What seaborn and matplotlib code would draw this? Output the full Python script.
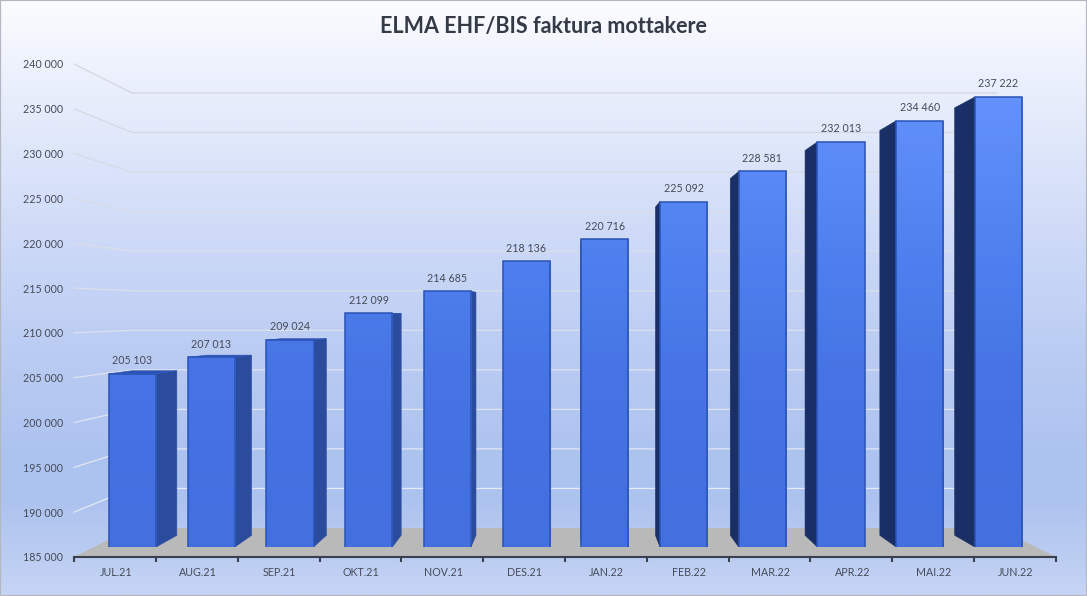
import numpy as np
import pandas as pd
import seaborn as sns
import matplotlib
matplotlib.use("Agg")
import matplotlib.pyplot as plt
from matplotlib.colors import LinearSegmentedColormap, to_rgb
from matplotlib.patches import Polygon, Rectangle
from matplotlib.transforms import Affine2D

# ---- data ----
months = ["JUL.21", "AUG.21", "SEP.21", "OKT.21", "NOV.21", "DES.21",
          "JAN.22", "FEB.22", "MAR.22", "APR.22", "MAI.22", "JUN.22"]
receivers = [205103, 207013, 209024, 212099, 214685, 218136,
             220716, 225092, 228581, 232013, 234460, 237222]
y_ticks = [185000, 190000, 195000, 200000, 205000, 210000,
           215000, 220000, 225000, 230000, 235000, 240000]
title = "ELMA EHF/BIS faktura mottakere"

# ---- style ----
W, H = 1087, 596
BASE, TOP = 185000, 240000
FONT = "Lato"
TEXT = "#454a58"
LABEL_SIZE = 7.7
sns.set_theme(style="white")
plt.rcParams["font.family"] = [FONT, "DejaVu Sans"]

fig = plt.figure(figsize=(W / 100, H / 100), dpi=100)
PX = Affine2D().scale(1 / W, -1 / H).translate(0, 1) + fig.transFigure


def box(left, right, top, bottom):
    return [left / W, 1 - bottom / H, (right - left) / W, (bottom - top) / H]


fmt = lambda v: f"{v:,}".replace(",", " ")

# ---- background gradient ----
bg_axes = fig.add_axes([0, 0, 1, 1], zorder=0)
bg_stops = [(0.00, "#fbfcff"), (0.10, "#eff3fd"), (0.25, "#dee6fa"), (0.42, "#cbd8f7"),
            (0.59, "#bbccf3"), (0.76, "#adc3ef"), (0.85, "#aec4ef"), (0.94, "#bccdf2"),
            (1.00, "#c6d5f5")]
bg_axes.imshow(np.linspace(0, 1, 400)[:, None], aspect="auto", extent=(0, 1, 0, 1),
               cmap=LinearSegmentedColormap.from_list("bg", bg_stops), vmin=0, vmax=1)
bg_axes.axis("off")

# ---- labelled axes: front edge of the floor and value scale on the side wall ----
ax = fig.add_axes(box(74, 1056, 64, 557), zorder=1)
ax.patch.set_alpha(0)
ax.set_xlim(-0.5, 11.5)
ax.set_ylim(BASE, TOP)
sns.despine(ax=ax, left=True, top=True, right=True)
ax.spines["bottom"].set_color("#3a4050")
ax.spines["bottom"].set_linewidth(1.5)
ax.set_yticks(y_ticks, [fmt(v) for v in y_ticks], fontsize=LABEL_SIZE, color=TEXT)
ax.tick_params(axis="y", length=0, pad=8)
ax.set_xticks(np.arange(12) + 0.01, months, fontsize=LABEL_SIZE, color=TEXT)
ax.tick_params(axis="x", which="major", length=0, pad=7.5)
ax.set_xticks(np.arange(13) - 0.5, minor=True)
ax.tick_params(axis="x", which="minor", bottom=True, length=3.5, width=1.5, color="#3a4050")

# floor and walls
WALL_L, WALL_R, WALL_FLOOR, WALL_TOP = 132, 997, 528, 93
ax.add_patch(Polygon([(74, 557), (1056, 557), (WALL_R, WALL_FLOOR), (WALL_L, WALL_FLOOR)],
                     closed=True, facecolor="#b9b9b9", edgecolor="none", transform=PX, zorder=1))
grid_hi, grid_lo = np.array(to_rgb("#d3d6e0")), np.array(to_rgb("#e6ebf6"))
for v in y_ticks[1:]:
    frac = (v - BASE) / (TOP - BASE)
    y_back = WALL_FLOOR + (WALL_TOP - WALL_FLOOR) * frac
    y_side = 557 + (64 - 557) * frac
    ax.plot([74, WALL_L, WALL_R], [y_side, y_back, y_back], transform=PX,
            color=tuple(grid_lo + (grid_hi - grid_lo) * frac), lw=0.9, zorder=1, clip_on=False)

# ---- bars: front plane of the 3-D columns ----
bx = fig.add_axes(box(132.5 - 39.365, 998.5 + 39.365, 547 - (TOP - BASE) * 0.008617, 547), zorder=2)
df = pd.DataFrame({"month": months, "receivers": receivers})
sns.barplot(data=df, x="month", y="receivers", ax=bx, width=0.6, color="#4a78e6",
            saturation=1, edgecolor="#2a53b4", linewidth=1.1)
bx.set_xlim(-0.5, 11.5)
bx.set_ylim(BASE, TOP)
bx.axis("off")

VX, VV, DEPTH = 5.557, 212100, 0.05  # perspective: vanishing point and depth


def back(x, v):
    return x + (VX - x) * DEPTH, v + (VV - v) * DEPTH


bar_cmap = LinearSegmentedColormap.from_list(
    "bar", [(0.0, "#436fdf"), (0.37, "#4674e4"), (0.60, "#4f7fee"), (1.0, "#6594ff")])
container = bx.containers[0]
for i, patch in enumerate(container.patches):
    x0, x1 = patch.get_x(), patch.get_x() + patch.get_width()
    v = receivers[i]
    if x1 <= VX + 0.35:
        xe, side = x1, "#2b4b9c"
    else:
        xe, side = x0, "#192f66"
    xb, vb_top = back(xe, v)
    _, vb_base = back(xe, BASE)
    bx.add_patch(Polygon([(xe, BASE), (xe, v), (xb, vb_top), (xb, vb_base)], closed=True,
                         facecolor=side, edgecolor=side, lw=0.4, zorder=3))
    if v < VV:
        bl = back(x0, v)
        br = back(x1, v)
        bx.add_patch(Polygon([(x0, v), (x1, v), br, bl], closed=True,
                             facecolor="#2c54b6", edgecolor="#2c54b6", lw=0.4, zorder=3))
    img = bx.imshow(np.linspace(1, 0, 300)[:, None], aspect="auto", cmap=bar_cmap,
                    extent=(-0.5, 11.5, BASE, TOP), vmin=0, vmax=1, zorder=4)
    img.set_clip_path(patch)
    patch.set_facecolor("none")
    patch.set_zorder(5)
bx.set_xlim(-0.5, 11.5)
bx.set_ylim(BASE, TOP)

bx.bar_label(container, labels=[fmt(v) for v in receivers], padding=5.5,
             fontsize=LABEL_SIZE, color=TEXT, zorder=6)

# ---- title and frame ----
fig.text(543 / W, 1 - 27 / H, title, ha="center", va="center", fontsize=15.5,
         fontweight="bold", color="#343a46", zorder=10)
fig.add_artist(Rectangle((0, 0), 1, 1, transform=fig.transFigure, fill=False,
                         edgecolor="#b4b7bf", lw=1.6, zorder=20))

fig.savefig("out.png", dpi=100)
